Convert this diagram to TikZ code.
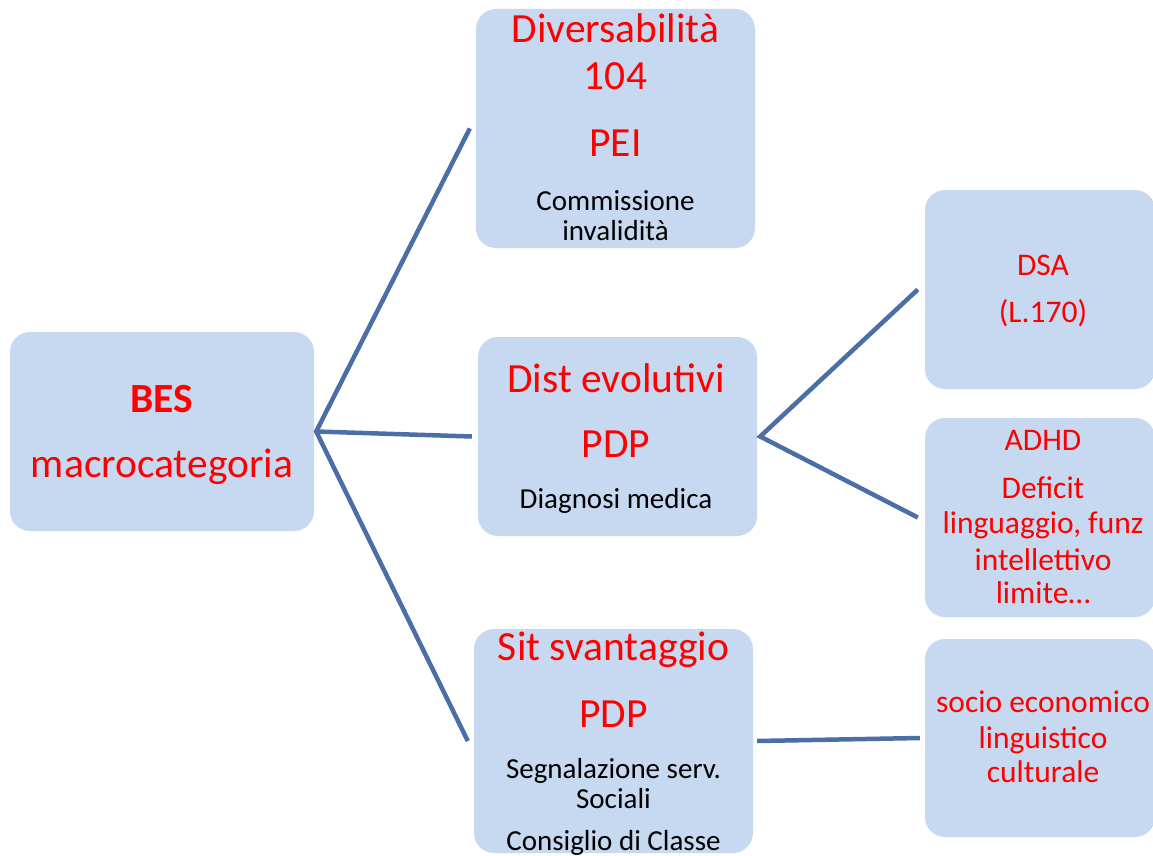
\documentclass[tikz,border=0pt]{standalone}
\usepackage{fontspec}
\setmainfont{Carlito}
\definecolor{boxfill}{HTML}{C7D9F0}
\definecolor{linkc}{HTML}{4A6EA5}
\definecolor{txtred}{HTML}{FF0000}
\tikzset{
  box/.style={draw=none, fill=boxfill, rounded corners=20pt, inner sep=0pt},
  link/.style={draw=linkc, line width=4.5pt, line join=miter},
  bigtxt/.style={font=\fontsize{41.5}{45}\selectfont, text=txtred, inner sep=0pt, anchor=base},
  smalltxt/.style={font=\fontsize{29}{31}\selectfont, text=black, inner sep=0pt, anchor=base},
  midtxt/.style={font=\fontsize{31.5}{34}\selectfont, text=txtred, inner sep=0pt, anchor=base}
}
\begin{document}
\begin{tikzpicture}[x=1pt,y=-1pt]
\clip (0,0) rectangle (1153,856);
\fill[white] (0,0) rectangle (1153,856);
% boxes
\node[box, minimum width=304pt, minimum height=199pt] (bes) at (162,431.5) {};
\node[box, minimum width=279pt, minimum height=239pt] (div) at (615.5,128.5) {};
\node[box, minimum width=279pt, minimum height=199pt] (dist) at (617.5,436.5) {};
\node[box, minimum width=279pt, minimum height=224pt] (sit) at (613.5,741) {};
\node[box, minimum width=230pt, minimum height=199pt] (dsa) at (1040,289.5) {};
\node[box, minimum width=230pt, minimum height=199pt] (adhd) at (1040,517.5) {};
\node[box, minimum width=230pt, minimum height=198pt] (socio) at (1040,738) {};
% connectors
\draw[link] ([xshift=-6pt]div.west) -- ([xshift=2pt]bes.east) -- ([xshift=-6pt]sit.west);
\draw[link] ([xshift=2pt]bes.east) -- ([xshift=-6pt]dist.west);
\draw[link] ([xshift=-7pt]dsa.west) -- ([xshift=3pt]dist.east) -- ([xshift=-7pt]adhd.west);
\draw[link] ([xshift=4pt]sit.east) -- ([xshift=-5pt]socio.west);
% BES
\node[bigtxt, font=\fontsize{41.5}{45}\selectfont\bfseries] (besa) at (162,412) {BES};
\node[bigtxt] (besb) at (162,477) {macrocategoria};
% Diversabilita
\node[bigtxt] (diva) at (615.5,43) {Diversabilità};
\node[bigtxt] (divb) at (615.5,90) {104};
\node[bigtxt] (divc) at (615.5,157) {PEI};
\node[smalltxt] (divd) at (615.5,210) {Commissione};
\node[smalltxt] (dive) at (615.5,240) {invalidità};
% Dist evolutivi
\node[bigtxt] (dista) at (616,392) {Dist evolutivi};
\node[bigtxt] (distb) at (616,457) {PDP};
\node[smalltxt] (distc) at (616,508) {Diagnosi medica};
% Sit svantaggio
\node[bigtxt] (sita) at (613.5,660) {Sit svantaggio};
\node[bigtxt] (sitb) at (613.5,727) {PDP};
\node[smalltxt] (sitc) at (613.5,778) {Segnalazione serv.};
\node[smalltxt] (sitd) at (613.5,808) {Sociali};
\node[smalltxt] (site) at (613.5,850) {Consiglio di Classe};
% DSA
\node[midtxt] (dsaa) at (1043,275) {DSA};
\node[midtxt] (dsab) at (1043,322) {(L.170)};
% ADHD
\node[midtxt] (adhda) at (1043,450) {ADHD};
\node[midtxt] (adhdb) at (1043,498) {Deficit};
\node[midtxt] (adhdc) at (1043,533) {linguaggio, funz};
\node[midtxt] (adhdd) at (1043,570) {intellettivo};
\node[midtxt] (adhde) at (1043,603) {limite…};
% socio
\node[midtxt] (socioa) at (1043,712) {socio economico};
\node[midtxt] (sociob) at (1043,748) {linguistico};
\node[midtxt] (socioc) at (1043,782) {culturale};
\end{tikzpicture}
\end{document}
